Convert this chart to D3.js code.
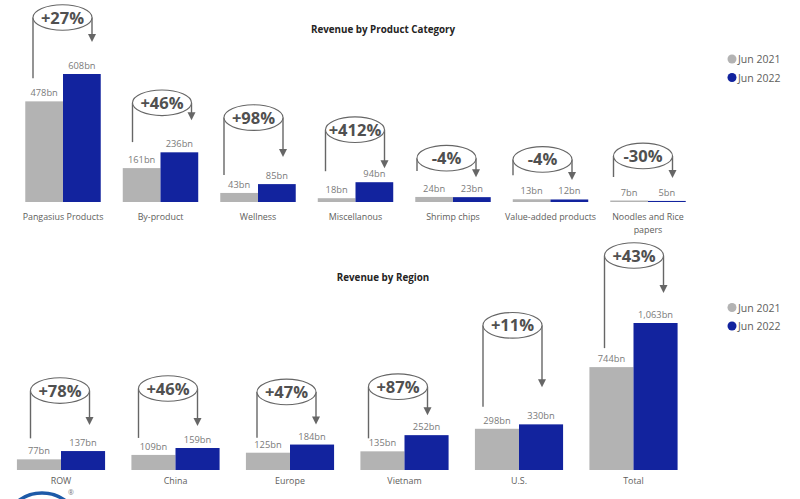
<!DOCTYPE html>
<html>
<head>
<meta charset="utf-8">
<script src="https://cdn.jsdelivr.net/npm/d3@7/dist/d3.min.js"></script>
<style>
  html, body { margin: 0; padding: 0; background: #fff; }
  svg { display: block; font-family: "Open Sans", "Noto Sans", sans-serif; }
</style>
</head>
<body>
<svg id="chart" width="800" height="499"></svg>
<script>
// ---- data ----
const seriesNames = ["Jun 2021", "Jun 2022"];

const productCategories = ["Pangasius Products", "By-product", "Wellness", "Miscellanous",
  "Shrimp chips", "Value-added products", "Noodles and Rice papers"];
const productJun2021 = [478, 161, 43, 18, 24, 13, 7];
const productJun2022 = [608, 236, 85, 94, 23, 12, 5];
const productChange = ["+27%", "+46%", "+98%", "+412%", "-4%", "-4%", "-30%"];

const regionCategories = ["ROW", "China", "Europe", "Vietnam", "U.S.", "Total"];
const regionJun2021 = [77, 109, 125, 135, 298, 744];
const regionJun2022 = [137, 159, 184, 252, 330, 1063];
const regionChange = ["+78%", "+46%", "+47%", "+87%", "+11%", "+43%"];

// ---- annotation layout (pixel offsets of the change badges) ----
// [dx from group centre, ellipse lift above Jun 2022 bar, arrow tip lift, left line lift above Jun 2021 bar]
const productBadgeLayout = [[-0.5, 56.5, 32, 23], [1.5, 49.5, 32, 26], [-4.5, 66.5, 27, 18],
  [-0.5, 52.5, 14, 27], [-6.5, 39, 20, 26], [-8, 40, 19.5, 24], [-5, 45, 23, 23.5]];
const regionBadgeLayout = [[-1, 60.5, 26, 21], [-7.5, 59.5, 22, 17], [-3.5, 52.6, 20, 15],
  [-6.5, 48.5, 20, 13], [-6.5, 99, 37, 22], [0.5, 67.5, 30, 19]];

const colors = ["#B3B3B3", "#12239E"];
const svg = d3.select("#chart");

function fmt(v) { return d3.format(",")(v) + "bn"; }

function drawChart(opt) {
  const g = svg.append("g");
  const x0 = d3.scaleBand().domain(opt.categories).range(opt.xRange)
    .paddingInner(opt.padInner).paddingOuter(opt.padInner / 2);
  const x1 = d3.scaleBand().domain(seriesNames).range([0, x0.bandwidth()]);
  const y = d3.scaleLinear().domain([0, opt.yMax]).range([opt.base, opt.yTop]);

  // title
  g.append("text").attr("x", 383).attr("y", opt.titleY).attr("text-anchor", "middle")
    .attr("font-size", 9.8).attr("font-weight", 700).attr("fill", "#252423").text(opt.title);

  const rows = opt.categories.map((c, i) => ({ c, i, v: [opt.s1[i], opt.s2[i]] }));
  const grp = g.selectAll("g.grp").data(rows).join("g").attr("class", "grp")
    .attr("transform", d => `translate(${x0(d.c)},0)`);

  grp.selectAll("rect").data(d => d.v.map((v, k) => ({ v, k })))
    .join("rect")
    .attr("x", d => x1(seriesNames[d.k]))
    .attr("width", x1.bandwidth())
    .attr("y", d => y(d.v))
    .attr("height", d => opt.base - y(d.v))
    .attr("fill", d => colors[d.k]);

  grp.selectAll("text.val").data(d => d.v.map((v, k) => ({ v, k })))
    .join("text").attr("class", "val")
    .attr("x", d => x1(seriesNames[d.k]) + x1.bandwidth() / 2)
    .attr("y", d => y(d.v) - 5)
    .attr("text-anchor", "middle").attr("font-size", 9.3).attr("fill", "#7a7a7a")
    .text(d => fmt(d.v));

  // category labels (with wrapping)
  grp.each(function (d) {
    const t = d3.select(this).append("text")
      .attr("x", x0.bandwidth() / 2).attr("y", opt.catY)
      .attr("text-anchor", "middle").attr("font-size", 8.9).attr("fill", "#605E5C");
    const lines = d.c === "Noodles and Rice papers" ? ["Noodles and Rice", "papers"] : [d.c];
    lines.forEach((l, j) => t.append("tspan").attr("x", x0.bandwidth() / 2)
      .attr("dy", j === 0 ? 0 : 13).text(l));
  });

  // change badges
  rows.forEach((d, i) => {
    const [dx, cyLift, tipLift, leftLift] = opt.layout[i];
    const cx = x0(d.c) + x0.bandwidth() / 2 + dx;
    const cy = y(d.v[1]) - cyLift;
    const rx = 29.5, ry = 12.8;
    const tipY = y(d.v[1]) - tipLift;
    const leftY = y(d.v[0]) - leftLift;
    const b = g.append("g");
    b.append("line").attr("x1", cx - rx).attr("x2", cx - rx).attr("y1", cy).attr("y2", leftY)
      .attr("stroke", "#666").attr("stroke-width", 1.4);
    b.append("line").attr("x1", cx + rx).attr("x2", cx + rx).attr("y1", cy).attr("y2", tipY - 7)
      .attr("stroke", "#666").attr("stroke-width", 1.4);
    b.append("path")
      .attr("d", `M${cx + rx - 4},${tipY - 8} L${cx + rx + 4},${tipY - 8} L${cx + rx},${tipY} Z`)
      .attr("fill", "#666");
    b.append("ellipse").attr("cx", cx).attr("cy", cy).attr("rx", rx).attr("ry", ry)
      .attr("fill", "#fff").attr("stroke", "#666").attr("stroke-width", 1.1);
    b.append("text").attr("x", cx).attr("y", cy + 6).attr("text-anchor", "middle")
      .attr("font-size", 16.5).attr("font-weight", 700).attr("fill", "#505050")
      .text(opt.change[i]);
  });

  // legend
  const lg = g.append("g");
  seriesNames.forEach((s, k) => {
    const ly = opt.legendY + k * 18.5;
    lg.append("circle").attr("cx", 732).attr("cy", ly).attr("r", 4.5).attr("fill", colors[k]);
    lg.append("text").attr("x", 738).attr("y", ly + 4).attr("font-size", 10.5)
      .attr("fill", "#605E5C").text(s);
  });
}

drawChart({
  title: "Revenue by Product Category", titleY: 33,
  categories: productCategories, s1: productJun2021, s2: productJun2022, change: productChange,
  layout: productBadgeLayout,
  xRange: [14.25, 696.75], padInner: 0.226,
  yMax: 608, base: 202, yTop: 74, catY: 220, legendY: 59
});

drawChart({
  title: "Revenue by Region", titleY: 281,
  categories: regionCategories, s1: regionJun2021, s2: regionJun2022, change: regionChange,
  layout: regionBadgeLayout,
  xRange: [3.75, 690.75], padInner: 0.23,
  yMax: 1063, base: 470, yTop: 323, catY: 484, legendY: 307.5
});

// partial logo at bottom-left
const logo = svg.append("g");
logo.append("ellipse").attr("cx", 42).attr("cy", 516).attr("rx", 31).attr("ry", 23)
  .attr("fill", "#fff").attr("stroke", "#1d5aa8").attr("stroke-width", 3.5);
logo.append("ellipse").attr("cx", 44).attr("cy", 517).attr("rx", 24).attr("ry", 16)
  .attr("fill", "#1d5aa8");
logo.append("path").attr("d", "M22,508 Q38,498 58,504 Q46,502 34,507 Z").attr("fill", "#fff");
logo.append("text").attr("x", 68).attr("y", 495).attr("font-size", 7).attr("fill", "#777").text("®");
</script>
</body>
</html>
